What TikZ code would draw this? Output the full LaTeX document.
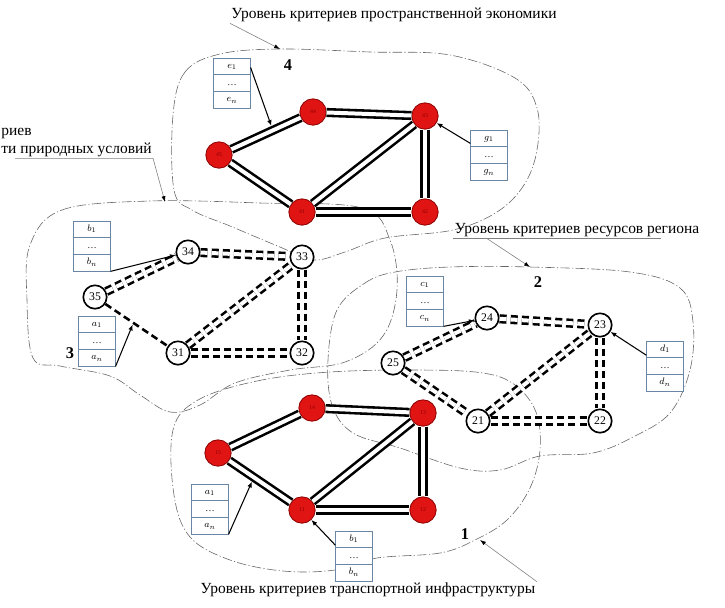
\documentclass[tikz,border=0pt]{standalone}
\usepackage{fontspec}
\setmainfont{Liberation Serif}
\usepackage{tikz}
\usetikzlibrary{arrows.meta}
\tikzset{>={Latex[length=5,width=4]}}
\usetikzlibrary{calc,shapes.multipart}
\usepackage{xcolor}
\colorlet{mydarkred}{red!55!black}
\definecolor{nodered}{RGB}{225,20,20}
\definecolor{boxblue}{RGB}{105,135,165}

\begin{document}
\begin{tikzpicture}[x=0.03cm,y=-0.03cm,
    arrow/.style={->,line width=0.9pt},
    lead/.style={-{Latex[length=5,width=3.5,color=black]},gray,line width=0.5pt},
    blob/.style={gray!80!black,line width=0.5pt,dash pattern=on 8pt off 2pt on 1pt off 2pt},
    rnode/.style={circle,draw=mydarkred,fill=nodered,line width=0.7pt,minimum size=22.5pt,inner sep=0pt,font=\tiny,text=mydarkred},
    wnode/.style={circle,draw,fill=white,line width=1.4pt,minimum size=20pt,inner sep=0pt,font=\fontsize{10}{12}\selectfont},
    sedge/.style={line width=2.2pt,double=white,double distance=3.4pt},
    dedge/.style={sedge,dash pattern=on 6pt off 3.5pt},
    dsingle/.style={line width=2.2pt,dash pattern=on 6pt off 3.5pt},
    crit/.style={rectangle split,rectangle split parts=3,draw=boxblue,fill=white,line width=0.7pt,text width=23pt,align=center,inner xsep=4pt,inner ysep=2pt,font=\footnotesize},
    ttl/.style={font=\fontsize{13.2}{15}\selectfont,inner sep=1pt},
    lvl/.style={font=\bfseries\fontsize{14}{16}\selectfont}]

    \useasboundingbox (0,0) rectangle (725,607);

    % level outlines
    \draw[blob] plot[smooth cycle,tension=0.6] coordinates {(173,115) (185,72) (220,54) (280,49) (370,52) (450,55) (515,78) (537,108) (537,150) (524,185) (497,212) (453,230) (385,238) (345,252) (313,260) (280,247) (230,226) (192,210) (174,190)};
    \draw[blob] plot[smooth cycle,tension=0.6] coordinates {(30,245) (62,210) (150,201) (260,203) (362,208) (390,240) (397,290) (383,336) (345,362) (290,370) (235,383) (200,405) (170,412) (140,395) (110,376) (60,366) (33,358) (27,300)};
    \draw[blob] plot[smooth cycle,tension=0.6] coordinates {(337,310) (365,283) (395,272) (450,267) (530,267) (630,272) (680,288) (693,322) (690,370) (670,413) (633,437) (593,453) (540,456) (500,470) (460,468) (400,448) (353,433) (332,405) (328,360)};
    \draw[blob] plot[smooth cycle,tension=0.6] coordinates {(198,400) (257,381) (330,372) (420,370) (483,373) (515,385) (536,412) (540,450) (530,488) (507,520) (475,540) (440,553) (377,558) (335,570) (283,571) (230,560) (190,537) (174,495) (173,430)};

    \coordinate (c4) at (280,49);
    \coordinate (c3) at (165,202);
    \coordinate (c2) at (530,267);
    \coordinate (c1) at (480,540);

    % titles
    \node[ttl] (tTop) at (394,15) {Уровень критериев пространственной экономики};
    \node[ttl,anchor=west] (tNat1) at (0,133) {риев};
    \node[ttl,anchor=west] (tNat2) at (0,150) {ти природных условий};
    \node[ttl] (tRes) at (577,230) {Уровень критериев ресурсов региона};
    \node[ttl] (tTr) at (368,590) {Уровень критериев транспортной инфраструктуры};

    \draw[lead] (tTop.south west) -- (c4);
    \draw[lead] ($(tNat2.south west)+(15,0)$) -- (tNat2.south east) -- (c3);
    \draw[gray,line width=0.5pt] (tRes.south west) -- ($(tRes.south east)+(-40,0)$);
    \draw[lead] ($(tRes.south west)+(33,0)$) -- (c2);
    \draw[lead] (tTr.north east) -- (c1);

    \node[lvl] (L4) at (288,65) {4};
    \node[lvl] (L3) at (70,353) {3};
    \node[lvl] (L2) at (538,282) {2};
    \node[lvl] (L1) at (465,534) {1};

    % level 4
    \node[rnode] (n45) at (219,155) {45};
    \node[rnode] (n44) at (313,112) {44};
    \node[rnode] (n43) at (425,116) {43};
    \node[rnode] (n41) at (302,212) {41};
    \node[rnode] (n42) at (425,212) {42};
    \draw[sedge] (n45) -- (n44) coordinate[pos=0.6] (p4);
    \draw[sedge] (n44) -- (n43);
    \draw[sedge] (n45) -- (n41);
    \draw[sedge] (n41) -- (n43);
    \draw[sedge] (n41) -- (n42);
    \draw[sedge] (n43) -- (n42);

    % level 3
    \node[wnode] (n34) at (188,252) {34};
    \node[wnode] (n33) at (302,257) {33};
    \node[wnode] (n35) at (95,297) {35};
    \node[wnode] (n31) at (178,353) {31};
    \node[wnode] (n32) at (302,353) {32};
    \draw[dedge] (n35) -- (n34);
    \draw[dedge] (n34) -- (n33);
    \draw[dedge] (n31) -- (n33);
    \draw[dedge] (n33) -- (n32);
    \draw[dedge] (n31) -- (n32);
    \draw[dsingle] (n35) -- (n31) coordinate[pos=0.45] (p3);

    % level 2
    \node[wnode] (n24) at (487,318) {24};
    \node[wnode] (n23) at (600,325) {23};
    \node[wnode] (n25) at (393,363) {25};
    \node[wnode] (n21) at (478,421) {21};
    \node[wnode] (n22) at (600,421) {22};
    \draw[dedge] (n25) -- (n24);
    \draw[dedge] (n24) -- (n23);
    \draw[dedge] (n21) -- (n23);
    \draw[dedge] (n23) -- (n22);
    \draw[dedge] (n21) -- (n22);
    \draw[dedge] (n25) -- (n21);

    % level 1
    \node[rnode] (n15) at (218,453) {15};
    \node[rnode] (n14) at (312,408) {14};
    \node[rnode] (n13) at (423,413) {13};
    \node[rnode] (n11) at (302,510) {11};
    \node[rnode] (n12) at (423,510) {12};
    \draw[sedge] (n15) -- (n14);
    \draw[sedge] (n14) -- (n13);
    \draw[sedge] (n15) -- (n11) coordinate[pos=0.4] (p1);
    \draw[sedge] (n11) -- (n13);
    \draw[sedge] (n11) -- (n12);
    \draw[sedge] (n13) -- (n12);

    % criteria boxes
    \node[crit] (bxE) at (232,83) {$e_1$\strut\nodepart{two}\dots\strut\nodepart{three}$e_n$\strut};
    \node[crit] (bxG) at (489,155) {$g_1$\strut\nodepart{two}\dots\strut\nodepart{three}$g_n$\strut};
    \node[crit] (bxB3) at (92,246) {$b_1$\strut\nodepart{two}\dots\strut\nodepart{three}$b_n$\strut};
    \node[crit] (bxA3) at (97,341) {$a_1$\strut\nodepart{two}\dots\strut\nodepart{three}$a_n$\strut};
    \node[crit] (bxC) at (425,301) {$c_1$\strut\nodepart{two}\dots\strut\nodepart{three}$c_n$\strut};
    \node[crit] (bxD) at (665,366) {$d_1$\strut\nodepart{two}\dots\strut\nodepart{three}$d_n$\strut};
    \node[crit] (bxA1) at (210,509) {$a_1$\strut\nodepart{two}\dots\strut\nodepart{three}$a_n$\strut};
    \node[crit] (bxB1) at (354,556) {$b_1$\strut\nodepart{two}\dots\strut\nodepart{three}$b_n$\strut};

    \draw[arrow,shorten >=4pt] (bxE.40) -- (p4);
    \draw[arrow] (bxG.148) -- (n43);
    \draw[arrow] (bxB3.south east) -- (n34);
    \draw[arrow,shorten >=1.5pt] (bxA3.south east) -- (p3);
    \draw[arrow] (bxC.south east) -- (n24);
    \draw[arrow] (bxD.150) -- (n23);
    \draw[arrow,shorten >=4pt] (bxA1.south east) -- (p1);
    \draw[arrow] (bxB1.150) -- (n11);
\end{tikzpicture}
\end{document}
